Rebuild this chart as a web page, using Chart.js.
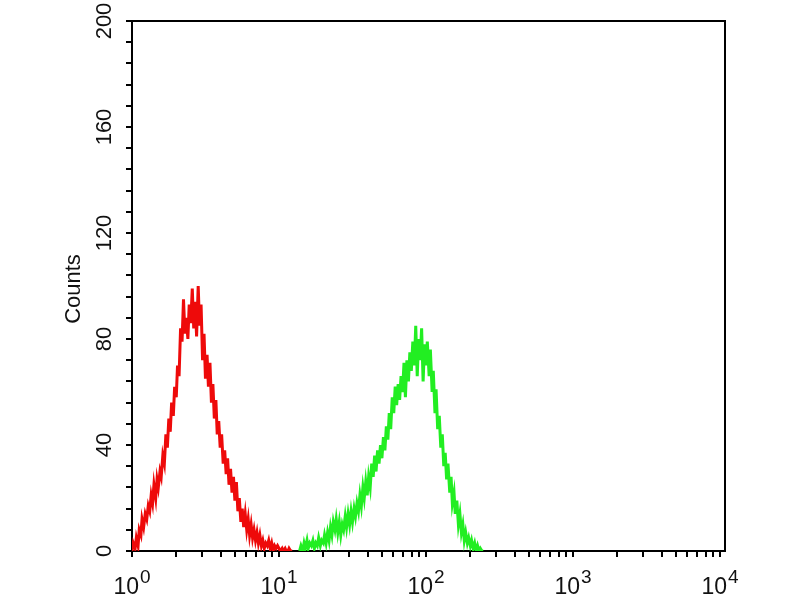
<!DOCTYPE html>
<html>
<head>
<meta charset="utf-8">
<script src="https://cdn.jsdelivr.net/npm/chart.js@4.4.1/dist/chart.umd.min.js"></script>
<style>
  html, body { margin: 0; padding: 0; background: #fff; }
  #wrap { width: 800px; height: 600px; }
</style>
</head>
<body>
<div id="wrap"><canvas id="histo" width="800" height="600"></canvas></div>
<script>
// fluorescence intensity (log axis) and counts
const redX = [
  1.00, 1.02, 1.05, 1.07, 1.10, 1.12, 1.15, 1.17, 1.20, 1.23,
  1.26, 1.29, 1.32, 1.35, 1.38, 1.41, 1.45, 1.48, 1.51, 1.55,
  1.58, 1.62, 1.66, 1.70, 1.74, 1.78, 1.82, 1.86, 1.91, 1.95,
  2.00, 2.04, 2.09, 2.14, 2.19, 2.24, 2.29, 2.34, 2.40, 2.45,
  2.51, 2.57, 2.63, 2.69, 2.75, 2.82, 2.88, 2.95, 3.02, 3.09,
  3.16, 3.24, 3.31, 3.39, 3.47, 3.55, 3.63, 3.72, 3.80, 3.89,
  3.98, 4.07, 4.17, 4.27, 4.37, 4.47, 4.57, 4.68, 4.79, 4.90,
  5.01, 5.13, 5.25, 5.37, 5.50, 5.62, 5.75, 5.89, 6.03, 6.17,
  6.31, 6.46, 6.61, 6.76, 6.92, 7.08, 7.24, 7.41, 7.59, 7.76,
  7.94, 8.13, 8.32, 8.51, 8.71, 8.91, 9.12, 9.33, 9.55, 9.77,
  10.0, 10.2, 10.5, 10.7, 11.0, 11.2, 11.5, 11.7, 12.0, 12.3
];
const redCounts = [
  0, 3, 1, 5, 2, 8, 6, 12, 9, 14,
  12, 17, 15, 21, 18, 25, 20, 27, 24, 30,
  28, 36, 33, 44, 39, 50, 45, 56, 51, 62,
  58, 70, 66, 84, 79, 95, 82, 88, 80, 93,
  86, 99, 84, 94, 81, 100, 85, 93, 72, 82,
  65, 74, 62, 71, 56, 63, 50, 57, 44, 49,
  39, 44, 33, 38, 29, 35, 25, 31, 22, 28,
  19, 26, 15, 20, 11, 16, 9, 14, 8, 12,
  6, 10, 5, 8, 4, 7, 3, 6, 2, 4,
  1, 3, 2, 4, 1, 3, 0, 2, 1, 2,
  1, 0, 1, 0, 1, 0, 0, 1, 0, 0
];
const greenX = [
  13.8, 14.1, 14.5, 14.8, 15.1, 15.5,
  15.8, 16.2, 16.6, 17.0, 17.4, 17.8, 18.2, 18.6, 19.1, 19.5,
  20.0, 20.4, 20.9, 21.4, 21.9, 22.4, 22.9, 23.4, 24.0, 24.5,
  25.1, 25.7, 26.3, 26.9, 27.5, 28.2, 28.8, 29.5, 30.2, 30.9,
  31.6, 32.4, 33.1, 33.9, 34.7, 35.5, 36.3, 37.2, 38.0, 38.9,
  39.8, 40.7, 41.7, 42.7, 43.7, 44.7, 45.7, 46.8, 47.9, 49.0,
  50.1, 51.3, 52.5, 53.7, 55.0, 56.2, 57.5, 58.9, 60.3, 61.7,
  63.1, 64.6, 66.1, 67.6, 69.2, 70.8, 72.4, 74.1, 75.9, 77.6,
  79.4, 81.3, 83.2, 85.1, 87.1, 89.1, 91.2, 93.3, 95.5, 97.7,
  100, 102, 105, 107, 110, 112, 115, 117, 120, 123,
  126, 129, 132, 135, 138, 141, 145, 148, 151, 155,
  158, 162, 166, 170, 174, 178, 182, 186, 191, 195,
  200, 204, 209, 214, 219, 224, 229, 234, 240, 245
];
const greenCounts = [
  0, 2, 0, 3, 1, 4,
  1, 3, 2, 4, 1, 3, 2, 5, 2, 4,
  3, 6, 3, 7, 4, 9, 6, 11, 8, 12,
  7, 11, 6, 10, 8, 13, 9, 14, 10, 15,
  11, 16, 13, 18, 15, 21, 17, 24, 20, 26,
  21, 28, 24, 33, 28, 36, 30, 38, 33, 40,
  35, 43, 38, 47, 42, 52, 46, 58, 52, 62,
  55, 63, 57, 66, 60, 71, 58, 72, 64, 75,
  68, 79, 70, 85, 66, 80, 72, 84, 64, 78,
  70, 79, 66, 76, 60, 68, 52, 61, 46, 51,
  39, 44, 32, 37, 27, 33, 22, 28, 18, 22,
  14, 19, 10, 14, 7, 10, 4, 7, 3, 5,
  2, 4, 1, 3, 0, 2, 0, 1, 0, 0
];

// axis ticks
const xTickValues = [
  1, 2, 3, 4, 5, 6, 7, 8, 9,
  10, 20, 30, 40, 50, 60, 70, 80, 90,
  100, 200, 300, 400, 500, 600, 700, 800, 900,
  1000, 2000, 3000, 4000, 5000, 6000, 7000, 8000, 9000, 10000
];
const xTickExponents = [0, 1, 2, 3, 4];
const yTickValues = [0, 8, 16, 24, 32, 40, 48, 56, 64, 72, 80, 88, 96, 104, 112, 120, 128, 136, 144, 152, 160, 168, 176, 184, 192, 200];
const yTickLabels = [0, 40, 80, 120, 160, 200];
const yTitle = 'Counts';

const FONT = '"Liberation Sans", Arial, sans-serif';

const toPoints = (xs, ys) => xs.map((x, i) => ({ x: x, y: ys[i] }));

const labelsPlugin = {
    id: 'cytoLabels',
    afterDraw(chart) {
        const ctx = chart.ctx;
        const area = chart.chartArea;
        const xs = chart.scales.x;
        const ys = chart.scales.y;
        ctx.save();

        //frame on top and right
        ctx.strokeStyle = '#000';
        ctx.lineWidth = 2;
        ctx.beginPath();
        ctx.moveTo(area.left, area.top);
        ctx.lineTo(area.right, area.top);
        ctx.lineTo(area.right, area.bottom);
        ctx.stroke();

        ctx.fillStyle = '#111';

        //x labels: 10 with exponent
        xTickExponents.forEach(e => {
            const px = xs.getPixelForValue(Math.pow(10, e));
            ctx.font = '23px ' + FONT;
            const wBase = ctx.measureText('10').width;
            ctx.font = '19px ' + FONT;
            const wExp = ctx.measureText(String(e)).width;
            const start = px - (wBase + wExp + 1) / 2;
            ctx.textAlign = 'left';
            ctx.textBaseline = 'alphabetic';
            ctx.font = '23px ' + FONT;
            ctx.fillText('10', start, 594);
            ctx.font = '19px ' + FONT;
            ctx.fillText(String(e), start + wBase + 1, 583);
        });

        //y labels, rotated
        ctx.font = '22px ' + FONT;
        ctx.textAlign = 'center';
        ctx.textBaseline = 'alphabetic';
        yTickLabels.forEach(v => {
            const py = ys.getPixelForValue(v);
            ctx.save();
            ctx.translate(111, py);
            ctx.rotate(-Math.PI / 2);
            ctx.fillText(String(v), 0, 0);
            ctx.restore();
        });

        //axis title
        ctx.font = '22px ' + FONT;
        ctx.save();
        ctx.translate(80, 289);
        ctx.rotate(-Math.PI / 2);
        ctx.fillText(yTitle, 0, 0);
        ctx.restore();

        ctx.restore();
    }
};

new Chart(document.getElementById('histo'), {
    type: 'line',
    data: {
        datasets: [
            {
                data: toPoints(redX, redCounts),
                borderColor: '#ee0a0a',
                borderWidth: 3,
                pointRadius: 0,
                tension: 0,
                fill: false
            },
            {
                data: toPoints(greenX, greenCounts),
                borderColor: '#22ee22',
                borderWidth: 3,
                pointRadius: 0,
                tension: 0,
                fill: false
            }
        ]
    },
    options: {
        responsive: false,
        animation: false,
        layout: { padding: { left: 0, top: 21, right: 75, bottom: 0 } },
        plugins: { legend: { display: false }, tooltip: { enabled: false } },
        scales: {
            x: {
                type: 'logarithmic',
                min: 1,
                max: 10800,
                afterBuildTicks: scale => { scale.ticks = xTickValues.map(v => ({ value: v })); },
                afterFit: scale => { scale.height = 49; },
                ticks: { display: false, autoSkip: false },
                grid: { drawOnChartArea: false, drawTicks: true, tickLength: 6, color: '#000', lineWidth: 2 },
                border: { display: true, color: '#000', width: 2 }
            },
            y: {
                type: 'linear',
                min: 0,
                max: 200,
                afterBuildTicks: scale => { scale.ticks = yTickValues.map(v => ({ value: v })); },
                afterFit: scale => { scale.width = 132; },
                ticks: { display: false, autoSkip: false },
                grid: { drawOnChartArea: false, drawTicks: true, tickLength: 6, color: '#000', lineWidth: 2 },
                border: { display: true, color: '#000', width: 2 }
            }
        }
    },
    plugins: [labelsPlugin]
});
</script>
</body>
</html>
